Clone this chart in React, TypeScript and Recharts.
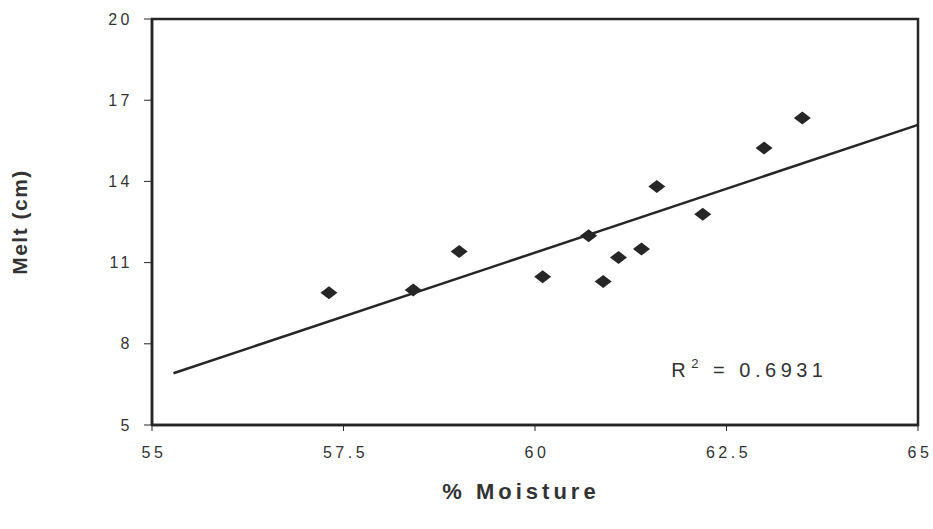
import React from "react";
import {
  ScatterChart,
  Scatter,
  XAxis,
  YAxis,
  ReferenceArea,
  ReferenceLine,
  Label,
} from "recharts";

const moisture = [57.31, 58.41, 59.01, 60.1, 60.7, 60.89, 61.09, 61.39, 61.59, 62.19, 62.99, 63.49];
const melt = [9.89, 9.99, 11.41, 10.48, 11.99, 10.3, 11.19, 11.5, 13.81, 12.79, 15.23, 16.34];
const xTicks = [55, 57.5, 60, 62.5, 65];
const yTicks = [5, 8, 11, 14, 17, 20];
const trendX = [55.28, 65];
const trendY = [6.91, 16.09];
const r2Text = "0.6931";

const points = moisture.map((x, i) => ({ x, y: melt[i] }));

const INK = "#262626";
const FONT = "'Liberation Sans', Arial, sans-serif";

const Diamond = (props: any) => {
  const { cx, cy } = props;
  if (cx == null || cy == null) return null;
  const w = 8.5;
  const h = 6.5;
  return (
    <path
      d={`M${cx},${cy - h} L${cx + w},${cy} L${cx},${cy + h} L${cx - w},${cy} Z`}
      fill={INK}
    />
  );
};

const tickStyle = {
  fontFamily: FONT,
  fontSize: 16,
  fill: "#333",
  letterSpacing: 3.5,
};

export default function App() {
  return (
    <div style={{ position: "absolute", left: 0, top: 0, width: 933, height: 529, background: "#fff" }}>
      <ScatterChart
        width={933}
        height={529}
        margin={{ top: 19, right: 15, left: 0, bottom: 0 }}
      >
        <XAxis
          type="number"
          dataKey="x"
          domain={[55, 65]}
          ticks={xTicks}
          height={104}
          allowDataOverflow
          axisLine={{ stroke: INK, strokeWidth: 2.5 }}
          tickLine={{ stroke: INK, strokeWidth: 1 }}
          tickSize={6}
          tick={{ ...tickStyle, dy: 14, dx: 2 }}
        >
          <Label
            value="% Moisture"
            position="insideBottom"
            offset={30}
            dx={-14}
            style={{
              fontFamily: FONT,
              fontSize: 22,
              fontWeight: "bold",
              fill: "#333",
              letterSpacing: 4,
            }}
          />
        </XAxis>
        <YAxis
          type="number"
          dataKey="y"
          domain={[5, 20]}
          ticks={yTicks}
          width={152}
          allowDataOverflow
          axisLine={{ stroke: INK, strokeWidth: 2.5 }}
          tickLine={{ stroke: INK, strokeWidth: 1 }}
          tickSize={8}
          tick={{ ...tickStyle, dx: -9 }}
        >
          <Label
            value="Melt (cm)"
            angle={-90}
            position="insideLeft"
            offset={20}
            style={{
              fontFamily: FONT,
              fontSize: 21,
              fontWeight: "bold",
              fill: "#333",
              textAnchor: "middle",
              letterSpacing: 1.5,
            }}
          />
        </YAxis>
        <ReferenceArea
          x1={55}
          x2={65}
          y1={5}
          y2={20}
          fill="none"
          stroke={INK}
          strokeWidth={2.5}
          ifOverflow="visible"
        />
        <ReferenceLine
          segment={[
            { x: trendX[0], y: trendY[0] },
            { x: trendX[1], y: trendY[1] },
          ]}
          stroke={INK}
          strokeWidth={2.5}
          ifOverflow="visible"
        />
        <Scatter data={points} shape={<Diamond />} isAnimationActive={false} />
        <ReferenceLine
          segment={[
            { x: 61.78, y: 7.0 },
            { x: 64.6, y: 7.0 },
          ]}
          stroke="none"
          ifOverflow="visible"
          label={(props: any) => {
            const vb = props.viewBox || {};
            const x = vb.x ?? 0;
            const y = (vb.y ?? 0) + 6;
            return (
              <text
                x={x}
                y={y}
                style={{
                  fontFamily: FONT,
                  fontSize: 20,
                  fill: "#333",
                  letterSpacing: 4.5,
                }}
              >
                R
                <tspan dy={-9} dx={1} fontSize={13}>2</tspan>
                <tspan dy={9}>{` = ${r2Text}`}</tspan>
              </text>
            );
          }}
        />
      </ScatterChart>
    </div>
  );
}
